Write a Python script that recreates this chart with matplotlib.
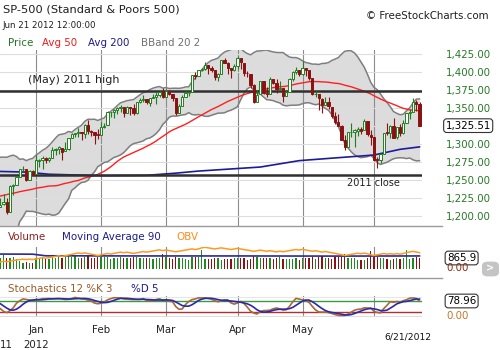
import numpy as np
import pandas as pd
import matplotlib
matplotlib.use("Agg")
import matplotlib.pyplot as plt
import matplotlib.transforms as mtransforms
from matplotlib.patches import FancyBboxPatch

# trading calendar (NYSE holidays in the range)
holidays = ["2011-11-24", "2011-12-26", "2012-01-02", "2012-01-16",
            "2012-02-20", "2012-04-06", "2012-05-28"]
dates = pd.bdate_range("2011-11-16", "2012-06-21", freq="C", holidays=holidays)
first_shown = pd.Timestamp("2011-12-14")

# closes before the OHLC block, only needed to warm up the 50 day average
early_closes = [1123.95, 1144.03, 1164.97, 1155.46, 1194.89, 1195.54, 1207.25, 1203.66,
                1224.58, 1200.86, 1225.38, 1209.88, 1215.39, 1238.25, 1254.19, 1229.05,
                1242.00, 1284.59, 1285.09, 1253.30, 1218.28, 1237.90, 1261.15, 1253.23,
                1261.12, 1275.92, 1229.10, 1239.70, 1263.85, 1251.78, 1257.81]

opens = [1257.8, 1236.6, 1216.2, 1215.6, 1192.9, 1187.5, 1161.4, 1158.7, 1192.6, 1196.7,
         1246.9, 1246.0, 1244.3, 1257.2, 1258.1, 1260.9, 1234.5, 1255.1, 1236.8,
         1225.7, 1212.1, 1216.1, 1219.7, 1205.7, 1241.3, 1243.7, 1254.0, 1265.0, 1265.4, 1249.8, 1262.8,
         1258.9, 1277.0, 1277.3, 1280.9, 1277.8, 1280.8, 1292.0, 1292.5, 1294.8, 1290.2,
         1293.7, 1308.1, 1314.5, 1315.3, 1316.0, 1314.4, 1326.3, 1318.3, 1316.2, 1313.5,
         1312.5, 1324.2, 1326.2, 1344.3, 1344.3, 1347.0, 1350.2, 1351.2, 1343.1, 1351.3,
         1350.5, 1342.6, 1358.1, 1361.2, 1362.1, 1357.5, 1363.5, 1365.2, 1367.6, 1372.2,
         1365.9, 1374.1, 1369.6, 1363.6, 1343.4, 1352.7, 1366.0, 1370.8, 1371.9, 1395.9,
         1394.2, 1402.6, 1404.2, 1409.6, 1405.5, 1402.9, 1392.8, 1397.1, 1416.6, 1412.5, 1405.4, 1403.3,
         1408.5, 1419.0, 1413.1, 1398.8, 1397.5, 1382.2, 1359.0, 1368.8, 1387.6, 1370.3,
         1369.6, 1390.8, 1385.1, 1377.0, 1378.5, 1367.0, 1372.1, 1390.6, 1400.2, 1403.3,
         1397.9, 1405.5, 1402.3, 1391.5, 1368.8, 1369.2, 1363.2, 1354.6, 1358.1, 1351.9,
         1338.4, 1330.8, 1324.8, 1305.1, 1295.7, 1316.1, 1316.0, 1318.7, 1320.8, 1318.9, 1331.3, 1313.1,
         1309.9, 1278.3, 1277.8, 1285.6, 1316.2, 1315.0, 1325.7, 1309.4, 1324.0, 1314.9,
         1329.2, 1342.4, 1344.8, 1358.0, 1355.4]

highs = [1259.6, 1237.7, 1223.5, 1215.6, 1196.8, 1187.5, 1172.7, 1197.4, 1203.7, 1247.1,
         1251.1, 1260.1, 1266.7, 1266.0, 1267.1, 1260.9, 1258.3, 1255.1, 1249.9,
         1225.7, 1225.6, 1231.0, 1224.6, 1242.8, 1245.1, 1255.2, 1265.4, 1269.4, 1265.9, 1263.5, 1264.1,
         1284.6, 1278.7, 1283.1, 1281.8, 1282.0, 1296.5, 1293.8, 1296.8, 1294.8, 1303.0,
         1308.1, 1315.5, 1315.4, 1322.3, 1316.0, 1328.3, 1333.5, 1320.1, 1316.2, 1321.4,
         1330.5, 1329.2, 1345.3, 1344.4, 1349.2, 1351.0, 1354.3, 1351.2, 1353.4, 1351.3,
         1355.9, 1359.0, 1363.4, 1367.8, 1362.7, 1364.2, 1368.9, 1371.9, 1373.1, 1378.0,
         1376.2, 1374.5, 1369.6, 1363.6, 1354.9, 1368.7, 1374.8, 1373.0, 1396.1, 1399.4,
         1402.6, 1405.9, 1414.0, 1409.6, 1407.8, 1402.9, 1399.2, 1416.6, 1419.2, 1413.7, 1405.4, 1410.9,
         1422.4, 1419.0, 1413.1, 1401.6, 1397.5, 1383.0, 1374.7, 1388.1, 1387.6, 1379.7,
         1392.8, 1390.8, 1390.2, 1387.4, 1378.5, 1375.6, 1391.4, 1402.1, 1406.6, 1403.3,
         1415.3, 1405.5, 1403.1, 1391.5, 1373.9, 1369.2, 1363.7, 1365.9, 1365.7, 1351.9,
         1344.9, 1341.8, 1326.4, 1312.2, 1316.4, 1328.5, 1320.7, 1324.1, 1324.2, 1334.9, 1331.3, 1319.7,
         1309.9, 1282.6, 1287.6, 1315.1, 1329.0, 1325.8, 1335.5, 1324.3, 1327.3, 1333.7,
         1343.3, 1348.2, 1363.5, 1361.6, 1358.3]

lows = [1235.7, 1209.4, 1211.4, 1183.2, 1181.7, 1161.8, 1158.7, 1158.7, 1191.8, 1196.7,
        1239.7, 1243.4, 1244.3, 1253.0, 1244.8, 1231.5, 1234.5, 1227.3, 1219.4,
        1209.5, 1212.1, 1215.2, 1202.4, 1205.7, 1229.5, 1243.1, 1254.0, 1262.3, 1248.6, 1249.8, 1257.5,
        1258.9, 1268.1, 1265.3, 1273.3, 1274.6, 1280.8, 1285.4, 1285.8, 1277.6, 1290.2,
        1291.0, 1308.1, 1309.2, 1309.9, 1306.1, 1307.7, 1313.6, 1311.7, 1300.5, 1306.7,
        1312.5, 1321.6, 1326.2, 1337.5, 1335.9, 1341.9, 1344.6, 1337.4, 1343.1, 1340.8,
        1340.8, 1341.2, 1357.2, 1358.1, 1355.5, 1352.3, 1363.5, 1354.9, 1366.0, 1363.8,
        1365.9, 1368.5, 1359.1, 1340.0, 1343.4, 1352.7, 1366.0, 1366.7, 1371.9, 1390.0,
        1394.2, 1401.5, 1402.4, 1397.7, 1400.6, 1388.7, 1386.9, 1397.1, 1412.0, 1397.2, 1391.6, 1401.4,
        1404.5, 1404.6, 1394.1, 1392.9, 1378.2, 1357.4, 1359.0, 1368.8, 1369.9, 1365.4,
        1369.6, 1383.3, 1370.3, 1377.0, 1358.8, 1366.8, 1372.1, 1387.3, 1397.3, 1394.0,
        1395.7, 1393.9, 1388.7, 1368.0, 1365.9, 1347.8, 1343.1, 1354.6, 1348.9, 1336.6,
        1328.4, 1324.8, 1304.9, 1292.0, 1295.7, 1310.0, 1296.5, 1310.5, 1314.2, 1318.9, 1310.8, 1298.9,
        1277.3, 1266.7, 1274.2, 1285.6, 1312.7, 1307.8, 1307.7, 1306.6, 1310.5, 1314.1,
        1329.2, 1334.3, 1344.8, 1346.5, 1324.4]

closes = [1236.9, 1216.1, 1215.7, 1193.0, 1188.0, 1161.8, 1158.7, 1192.6, 1195.2, 1247.0,
          1244.6, 1244.3, 1257.1, 1258.5, 1261.0, 1234.4, 1255.2, 1236.5, 1225.7,
          1211.8, 1215.8, 1219.7, 1205.4, 1241.3, 1243.7, 1254.0, 1265.3, 1265.4, 1249.6, 1263.0, 1257.6,
          1277.1, 1277.3, 1281.1, 1277.8, 1280.7, 1292.1, 1292.5, 1295.5, 1289.1, 1293.7,
          1308.0, 1314.5, 1315.4, 1316.0, 1314.7, 1326.1, 1318.4, 1316.3, 1313.0, 1312.4,
          1324.1, 1325.5, 1344.9, 1344.3, 1347.1, 1350.0, 1352.0, 1342.6, 1351.8, 1350.5,
          1343.2, 1358.0, 1361.2, 1362.2, 1357.7, 1363.5, 1365.7, 1367.6, 1372.2, 1365.7,
          1374.1, 1369.6, 1364.3, 1343.4, 1352.6, 1365.9, 1370.9, 1371.1, 1396.0, 1394.3,
          1402.6, 1404.2, 1409.8, 1405.5, 1402.9, 1392.8, 1397.1, 1416.5, 1412.5, 1405.5, 1403.3, 1408.5,
          1419.0, 1413.4, 1399.0, 1398.1, 1382.2, 1358.6, 1368.7, 1387.6, 1370.3, 1369.6,
          1390.8, 1385.1, 1376.9, 1378.5, 1366.9, 1372.0, 1390.7, 1400.0, 1403.4, 1397.9,
          1405.8, 1402.3, 1391.6, 1369.1, 1369.6, 1363.7, 1354.6, 1358.0, 1353.4, 1338.4,
          1330.7, 1324.8, 1304.9, 1295.2, 1316.0, 1316.6, 1318.9, 1320.7, 1317.8, 1332.4, 1313.3, 1310.3,
          1278.0, 1278.2, 1285.5, 1315.1, 1315.0, 1325.7, 1308.9, 1324.2, 1314.9, 1329.1,
          1342.8, 1344.8, 1358.0, 1355.7, 1325.5]

# volume (billions of shares) for the shown days, Dec 14 .. Jun 21
volumes = [4.3, 3.8, 4.8, 3.7, 3.9, 4.1, 3.4, 2.6, 2.2, 2.3, 2.2, 2.0,
           3.8, 3.7, 4.0, 3.5, 3.4, 4.2, 3.9, 4.0, 3.7, 4.0, 4.3, 4.2, 4.6, 3.9, 3.9, 4.2, 4.3, 3.8, 3.7, 4.2,
           4.2, 4.0, 4.2, 3.4, 3.7, 3.9, 4.1, 3.9, 3.6, 3.8, 4.1, 4.1, 3.9, 3.8, 3.7, 3.6, 3.4, 3.6, 3.9, 5.1,
           4.0, 3.6, 3.5, 4.1, 3.6, 3.6, 3.5, 3.2, 4.0, 4.1, 4.2, 6.5, 3.5, 3.4, 3.4, 3.7, 3.6, 3.2, 3.3, 3.5, 3.5, 3.6,
           3.8, 3.9, 3.9, 3.1, 3.4, 4.4, 4.0, 3.7, 3.6, 3.6, 3.7, 3.4, 3.9, 4.2, 3.3, 3.3, 3.5, 3.4, 3.6, 3.2,
           3.9, 3.6, 3.9, 4.0, 3.3, 4.1, 4.5, 3.8, 3.9, 3.5, 4.2, 4.0, 4.2, 5.1, 3.7, 3.6, 3.7, 3.2, 2.9, 3.2, 3.6, 6.1,
           4.2, 4.0, 3.6, 3.9, 3.5, 3.0, 3.5, 3.7, 3.4, 3.8, 6.5, 3.3, 3.6, 4.0, 3.9]

# 200 day average and the 90 day volume average
sma200_dates = ["2011-12-14", "2011-12-28", "2012-01-09", "2012-02-01", "2012-02-22", "2012-03-06",
                "2012-03-15", "2012-04-12", "2012-04-30", "2012-05-16", "2012-06-01", "2012-06-13", "2012-06-21"]
sma200_vals = [1262, 1261, 1258, 1256, 1256.5, 1259.5, 1262.4, 1268, 1276.9, 1281, 1284.7, 1292.6, 1296]
vma90_dates = ["2011-12-14", "2011-12-30", "2012-01-06", "2012-02-15", "2012-04-02", "2012-05-15", "2012-06-21"]
vma90_vals = [5.1, 5.05, 4.5, 4.45, 4.45, 4.4, 4.45]

high_2011 = 1374
close_2011 = 1257.6
month_names = ["Jan", "Feb", "Mar", "Apr", "May"]

# ---------------------------------------------------------------
W, H = 500, 350
x = np.arange(len(dates)) - dates.get_loc(first_shown)
pos = pd.Series(x, index=dates)
o = pd.Series(opens, index=dates)
h = pd.Series(highs, index=dates)
l = pd.Series(lows, index=dates)
c = pd.Series(closes, index=dates)

all_c = pd.Series(early_closes + closes)
sma50 = all_c.rolling(50).mean().iloc[len(early_closes):].values
mid = c.rolling(20).mean()
sd = c.rolling(20).std(ddof=0)
bb_up, bb_lo = mid + 2 * sd, mid - 2 * sd
hh = h.rolling(12).max()
ll = l.rolling(12).min()
stoch_k = (100 * (c - ll) / (hh - ll)).rolling(3).mean()
stoch_d = stoch_k.rolling(5).mean()

shown = dates >= first_shown
xs = x[shown]
vol = np.array(volumes)
cs = c[shown].values
up = np.r_[True, np.diff(cs) >= 0]
obv = np.cumsum(np.where(up, vol, -vol))
candle_up = (c >= o).values

sd_dates = dates[shown]
month_pos = [pos[d] for i, d in enumerate(sd_dates) if i > 0 and d.month != sd_dates[i - 1].month]

fig = plt.figure(figsize=(5, 3.5), dpi=100)
fig.patch.set_facecolor("white")


def box(top, bottom):
    return [0, 1 - bottom / H, 422 / W, (bottom - top) / H]


def ftext(px, py, s, **kw):
    kw.setdefault("va", "center")
    fig.text(px / W, 1 - py / H, s, **kw)


xlim = (3 / 3.25, 425 / 3.25)
ax = fig.add_axes(box(50, 226))
axv = fig.add_axes(box(247, 269))
axs = fig.add_axes(box(296, 317))
for a in (ax, axv, axs):
    a.set_xlim(*xlim)
    for s in a.spines.values():
        s.set_visible(False)
    a.tick_params(length=0)
    for m in month_pos:
        a.axvline(m, color="#8c8c8c", lw=0.8, zorder=1)

# ---- price panel
ax.set_ylim(1186.1, 1430.6)
ax.set_yticks(np.arange(1200, 1426, 25))
ax.set_yticklabels([f"{v:,.2f}" for v in np.arange(1200, 1426, 25)], color="#277a27", fontsize=7.4)
ax.yaxis.tick_right()
ax.tick_params(axis="y", pad=17.3)
ax.set_xticks([])
ax.grid(axis="y", color="#dddddd", lw=0.8, zorder=0)

ax.fill_between(x, bb_lo, bb_up, color="#dcdcdc", zorder=0.5, lw=0)
ax.plot(x, bb_up, color="#7f7f7f", lw=1.1, zorder=2)
ax.plot(x, bb_lo, color="#7f7f7f", lw=1.1, zorder=2)
ax.plot(x, sma50, color="#ff1f1f", lw=1.0, zorder=2.5)
ax.plot(pos[pd.to_datetime(sma200_dates)].values, sma200_vals, color="#1c1c9a", lw=1.2, zorder=2.5)
ax.axhline(high_2011, color="#303030", lw=1.8, zorder=3)
ax.axhline(close_2011, color="#303030", lw=1.8, zorder=3)

col = np.where(candle_up, "#1f7f1f", "#8b1212")
ax.vlines(x, l, h, color=col, lw=0.8, zorder=4)
body_lo = np.minimum(o, c)
body_h = np.maximum(np.abs(c - o), 0.6)
ax.bar(x, body_h, bottom=body_lo, width=0.62, color=np.where(candle_up, "white", "#8b1212"),
       edgecolor=col, linewidth=0.7, zorder=5)

ax.annotate("1,325.51", xy=(445.5 / 422, closes[-1]), xycoords=("axes fraction", "data"),
            va="center", ha="left", fontsize=7.4, color="black", annotation_clip=False,
            bbox=dict(boxstyle="round,pad=0.18,rounding_size=0.3", fc="white", ec="#333333", lw=0.8))
ax.text(28 / 3.25 + 0.9, 1389, "(May) 2011 high", fontsize=8, color="#222222", va="center", zorder=6)
ax.text(347 / 3.25 + 0.9, 1246, "2011 close", fontsize=7, color="#222222", va="center", zorder=6)

# ---- volume panel
axv.set_ylim(0, 7.5)
axv.set_yticks([])
axv.set_xticks([])
vcol = np.where(candle_up[shown], "#1f8a1f", "#8b1212")
axv.bar(xs, vol, width=0.36, color=vcol, zorder=2)
axv.plot(pos[pd.to_datetime(vma90_dates)].values, vma90_vals, color="#2a2a9a", lw=1.2, zorder=3)
axo = axv.twinx()
axo.set_xlim(*xlim)
for s in axo.spines.values():
    s.set_visible(False)
axo.set_yticks([])
i_mar = list(sd_dates).index(pd.Timestamp("2012-03-01"))
span = (obv[i_mar] - obv[1]) / (0.864 - 0.318)
lo = obv[1] - 0.318 * span
axo.set_ylim(lo, lo + span)
axo.plot(xs, obv, color="#ff9a1f", lw=1.1, zorder=4)

# ---- stochastics panel
axs.set_ylim(-7, 107)
axs.set_yticks([])
axs.axhline(0, color="#dddddd", lw=0.8)
axs.axhline(100, color="#e6e6e6", lw=0.8)
axs.axhline(80, color="#3d9a3d", lw=1.0, zorder=2)
axs.axhline(20, color="#b03030", lw=1.0, zorder=2)
axs.plot(xs, stoch_k[shown], color="#a8683a", lw=1.2, zorder=3)
axs.plot(xs, stoch_d[shown], color="#2a2aa8", lw=1.2, zorder=4)
axs.set_xticks(month_pos[:5])
axs.set_xticklabels(month_names, fontsize=7.4, color="#222222")
axs.tick_params(axis="x", pad=5.5)
tr = mtransforms.blended_transform_factory(axs.transData, fig.transFigure)
axs.text(month_pos[0], 1 - 345 / H, "2012", transform=tr, ha="center", va="center",
         fontsize=7.4, color="#222222", clip_on=False)
ftext(0, 345, "11", fontsize=7.4, color="#222222")

# ---- separators, headers, labels
for yy in (226, 278):
    fig.add_artist(plt.Line2D([0, 442 / W], [1 - yy / H] * 2, color="#9a9a9a", lw=1.0))

ftext(3, 9, "SP-500 (Standard & Poors 500)", fontsize=8.2, color="#1e1e1e")
ftext(2, 25, "Jun 21 2012 12:00:00", fontsize=6.2, color="#1e1e1e")
ftext(366, 16, "\u00a9 FreeStockCharts.com", fontsize=7.4, color="#1e1e1e")
for px_, s, cc in [(8, "Price", "#267326"), (42, "Avg 50", "#ee1b1b"),
                   (88, "Avg 200", "#1c1c8c"), (141, "BBand 20 2", "#707070")]:
    ftext(px_, 43, s, fontsize=7.4, color=cc)
for px_, s, cc in [(8, "Volume", "#8b2222"), (62, "Moving Average 90", "#1c1c8c"),
                   (176, "OBV", "#ff8c1a")]:
    ftext(px_, 237, s, fontsize=7.4, color=cc)
ftext(8, 289, "Stochastics 12 %K 3", fontsize=7.4, color="#9a5a28")
ftext(131, 289, "%D 5", fontsize=7.4, color="#1c1c8c")

ftext(447, 258, "865.9", fontsize=7.4, color="black",
      bbox=dict(boxstyle="round,pad=0.18,rounding_size=0.3", fc="white", ec="#333333", lw=0.8))
ftext(446, 268, "0.00", fontsize=7.4, color="#8b2a10")
ftext(447, 301, "78.96", fontsize=7.4, color="black",
      bbox=dict(boxstyle="round,pad=0.18,rounding_size=0.3", fc="white", ec="#333333", lw=0.8))
ftext(446, 316, "0.00", fontsize=7.4, color="#c0772a")
ftext(408, 337, "6/21/2012", fontsize=6.6, color="#111111", ha="center")

btn = FancyBboxPatch((484 / W, 1 - 275 / H), 13 / W, 12 / H, transform=fig.transFigure,
                     boxstyle="round,pad=0.004,rounding_size=0.012", fc="#c4c4c4", ec="none")
fig.add_artist(btn)
ftext(490.5, 268.5, ">", fontsize=7, color="white", ha="center", fontweight="bold")

fig.savefig("out.png", dpi=100)
